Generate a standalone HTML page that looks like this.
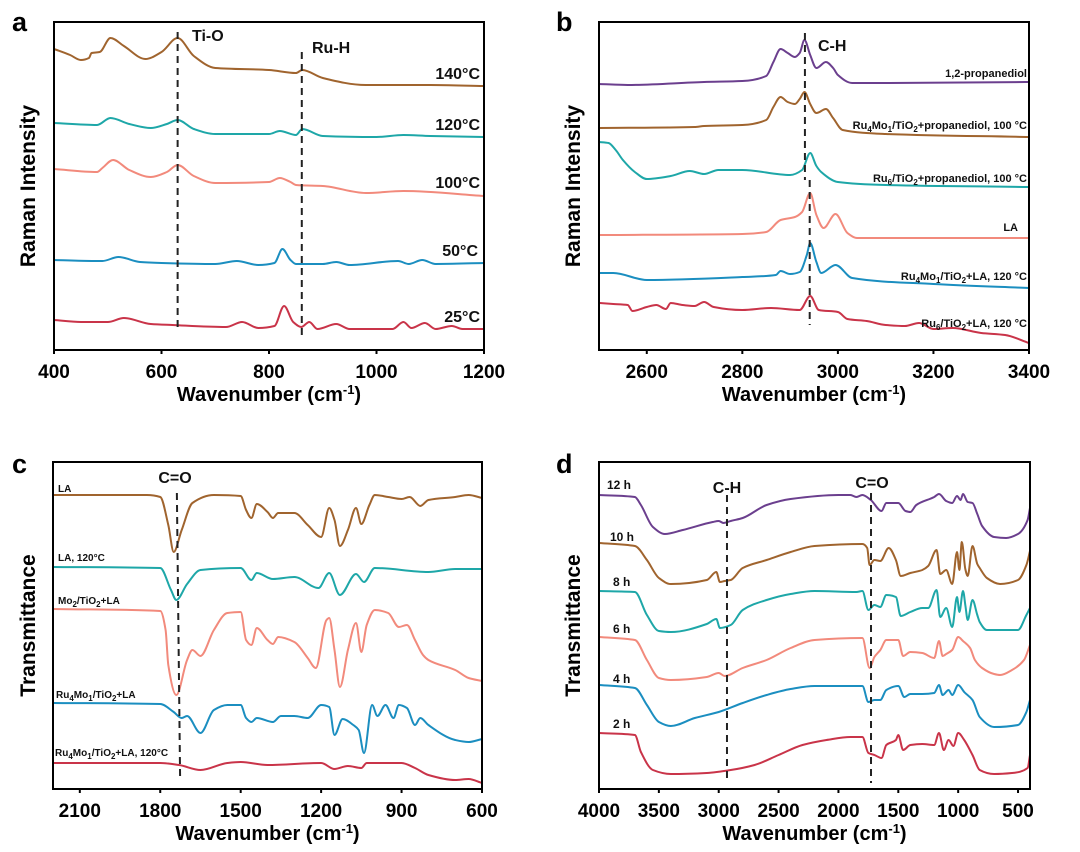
<!DOCTYPE html>
<html><head><meta charset="utf-8"><style>
body{margin:0;background:#fff}
svg{display:block;font-family:"Liberation Sans",Arial,sans-serif}
</style></head><body>
<svg id="fig" width="1080" height="852" viewBox="0 0 1080 852"></svg>
<script>
// ---- Panel a (Raman, x: wavenumber, values: offset intensity a.u.) ----
const aTicks=[400,600,800,1000,1200];
const a140=[400,49,430,55,450,60,465,58,470,53,485,52,505,38,530,46,570,59,600,52,630,38,660,56,700,68,800,70,850,73,862,70,900,78,980,85,1100,85,1200,86];
const a120=[400,123,480,125,505,118,540,124,580,128,610,124,630,120,660,129,700,134,800,134,820,131,850,135,862,129,900,136,1000,137,1050,135,1100,136,1200,137];
const a100=[400,169,480,172,490,168,510,160,540,170,580,177,610,172,630,165,660,176,700,183,800,182,820,178,840,182,850,185,900,186,980,193,1050,191,1200,196];
const a50=[400,260,470,261,490,261,520,257,560,262,600,263,700,264,740,261,780,265,810,263,825,249,840,260,850,264,900,264,925,262,950,265,1040,261,1060,264,1085,260,1110,264,1200,263];
const a25=[400,320,450,322,500,322,530,318,580,324,620,325,720,327,750,322,780,328,810,326,828,306,845,322,860,327,875,322,890,329,925,324,950,329,1030,329,1050,322,1065,328,1090,323,1110,329,1140,326,1160,329,1200,329];
// ---- Panel b ----
const bTicks=[2600,2800,3000,3200,3400];
const bProp=[2500,84,2560,85,2720,82,2800,81,2850,76,2865,62,2880,49,2895,53,2910,57,2920,53,2930,40,2942,55,2955,68,2975,62,2990,68,3000,75,3030,83,3100,83,3400,82];
const bRuMoProp=[2500,128,2700,127,2720,126,2800,125,2850,120,2865,107,2880,97,2895,102,2910,104,2920,99,2930,92,2942,104,2955,113,2975,109,2990,118,3010,130,3100,134,3400,137];
const bRuProp=[2500,142,2520,143,2535,150,2550,160,2575,172,2600,179,2650,176,2690,171,2720,174,2750,170,2800,170,2900,175,2925,170,2942,153,2955,166,2965,172,3000,182,3100,185,3400,187];
const bLA=[2500,235,2800,234,2850,232,2880,220,2910,217,2925,212,2942,193,2955,215,2970,228,2995,214,3020,233,3040,238,3400,238];
const bRuMoLA=[2500,273,2530,273,2600,280,2800,277,2870,275,2880,271,2900,274,2920,272,2935,255,2942,243,2955,262,2965,273,2995,265,3030,278,3200,284,3400,288];
const bRuLA=[2500,303,2530,304,2560,305,2570,311,2600,307,2620,305,2640,309,2650,303,2675,305,2700,306,2720,302,2740,307,2800,310,2860,308,2920,310,2942,296,2960,310,3000,312,3020,319,3060,321,3100,325,3140,326,3170,323,3200,329,3240,328,3300,333,3350,335,3400,343];
// ---- Panel c (IR transmittance) ----
const cTicks=[2100,1800,1500,1200,900,600];
const cLA=[2200,495,1850,495,1800,497,1770,525,1750,552,1720,530,1680,503,1600,495,1500,496,1480,510,1460,518,1440,504,1400,512,1380,518,1360,513,1300,513,1250,525,1200,537,1170,508,1150,520,1130,546,1100,530,1070,508,1050,524,1020,505,1000,495,950,497,900,499,870,497,830,506,800,500,700,497,650,495,600,498];
const cLA120=[2200,567,1800,568,1760,590,1740,600,1700,584,1650,570,1500,568,1460,580,1440,573,1380,579,1300,577,1210,588,1170,573,1130,595,1070,574,1040,582,1000,568,800,572,700,569,600,569];
const cMo=[2200,609,1800,611,1780,630,1770,665,1740,695,1700,660,1680,650,1650,656,1600,630,1550,613,1500,612,1480,640,1460,645,1440,628,1400,640,1380,644,1360,637,1300,642,1250,658,1220,668,1180,620,1170,618,1150,650,1130,687,1100,650,1070,623,1050,652,1030,625,1000,610,950,613,910,627,880,625,850,640,820,655,800,660,700,670,650,678,600,681];
const cRuMo=[2200,703,1800,704,1750,712,1720,718,1700,716,1650,733,1600,710,1550,705,1500,705,1480,718,1460,722,1440,718,1380,722,1350,716,1300,716,1250,718,1200,705,1170,707,1150,735,1120,719,1080,725,1060,730,1040,753,1010,705,990,716,960,705,930,718,910,705,880,708,850,725,830,718,800,725,700,740,650,742,600,739];
const cRuMo120=[2200,763,1800,763,1730,765,1650,770,1550,763,1500,762,1400,765,1200,763,1150,769,1100,766,1050,768,1030,763,900,763,850,768,800,775,700,780,650,779,600,783];
// ---- Panel d (IR time series) ----
const dTicks=[4000,3500,3000,2500,2000,1500,1000,500];
const d12=[4000,495,3700,497,3650,505,3550,527,3450,534,3300,530,3050,522,3000,521,2960,523,2900,521,2800,518,2600,505,2400,499,2000,495,1900,495,1850,497,1800,495,1730,500,1640,511,1600,503,1500,503,1440,511,1400,512,1350,505,1200,497,1160,494,1100,501,1050,503,1010,496,980,500,960,494,920,502,880,503,840,514,800,526,700,537,600,538,500,534,420,520,400,508];
const d10=[4000,543,3700,546,3600,560,3500,578,3400,584,3100,580,3020,572,2990,582,2950,581,2900,580,2800,568,2600,560,2400,552,2200,546,1800,544,1760,548,1740,565,1700,560,1650,561,1580,548,1520,560,1480,576,1400,573,1300,570,1250,566,1180,550,1150,574,1100,570,1050,584,1010,552,990,570,970,542,940,569,920,576,880,546,840,564,820,568,760,578,650,584,500,580,430,565,400,551];
const d8=[4000,591,3700,592,3600,615,3500,631,3400,632,3100,624,3020,619,2990,628,2900,625,2800,610,2600,600,2400,594,2200,591,1850,592,1800,591,1750,610,1700,605,1650,607,1600,595,1520,597,1480,616,1400,612,1300,608,1250,608,1180,590,1150,617,1100,608,1050,627,1010,597,990,612,960,591,940,605,920,620,880,600,840,615,820,622,760,630,650,630,500,630,430,615,400,608];
const d6=[4000,637,3700,640,3600,660,3500,678,3400,680,3100,677,3000,673,2950,676,2800,668,2600,660,2400,648,2200,640,1800,638,1740,668,1700,657,1650,650,1600,640,1500,640,1460,656,1400,652,1300,653,1200,658,1160,641,1130,656,1100,654,1050,650,1000,637,960,641,900,648,860,660,800,668,700,674,650,675,550,670,450,660,400,645];
const d4=[4000,685,3700,688,3600,705,3500,722,3400,726,3200,718,3000,712,2800,703,2600,695,2400,689,2200,686,1800,686,1750,702,1700,700,1650,700,1600,690,1500,686,1450,697,1400,694,1300,694,1200,693,1160,685,1130,695,1080,690,1050,695,1000,685,950,692,880,700,820,717,700,727,500,725,430,712,400,700];
const d2=[4000,733,3700,735,3650,752,3550,770,3400,774,3100,773,2900,770,2700,765,2500,755,2300,745,2100,740,1900,737,1800,737,1750,753,1700,755,1640,758,1600,745,1520,740,1500,735,1460,750,1400,745,1300,744,1200,745,1160,733,1120,750,1080,740,1040,746,1000,733,950,740,880,755,820,770,700,774,550,773,420,768,400,755];

const NS="http://www.w3.org/2000/svg";
const svg=document.getElementById('fig');
function el(tag,attrs,parent){const e=document.createElementNS(NS,tag);for(const k in attrs)e.setAttribute(k,attrs[k]);(parent||svg).appendChild(e);return e;}
function txt(s,attrs,parent){const t=el('text',attrs,parent);t.textContent=s;return t;}

const C={brown:'#a0642e',teal:'#1ea7a8',salmon:'#f28a7c',blue:'#1b8ec0',red:'#c93449',purple:'#6b3f8e'};

// monotone cubic path (no overshoot)
function monoPath(pts){
  const n=pts.length;const dx=[],s=[];
  for(let i=0;i<n-1;i++){dx[i]=pts[i+1][0]-pts[i][0];s[i]=(pts[i+1][1]-pts[i][1])/dx[i];}
  const m=new Array(n);m[0]=s[0];m[n-1]=s[n-2];
  for(let i=1;i<n-1;i++){m[i]=(s[i-1]*s[i]<=0)?0:(3*(dx[i-1]+dx[i]))/((2*dx[i]+dx[i-1])/s[i-1]+(dx[i]+2*dx[i-1])/s[i]);}
  let d='M'+pts[0][0].toFixed(1)+','+pts[0][1].toFixed(1);
  for(let i=0;i<n-1;i++){
    const h=dx[i]/3;
    d+='C'+(pts[i][0]+h).toFixed(1)+','+(pts[i][1]+m[i]*h).toFixed(1)+' '+(pts[i+1][0]-h).toFixed(1)+','+(pts[i+1][1]-m[i+1]*h).toFixed(1)+' '+pts[i+1][0].toFixed(1)+','+pts[i+1][1].toFixed(1);
  }
  return d;
}

function makePanel(p){
  const g=el('g',{});
  
  
  const X=v=>p.l+(v-p.x0)/(p.x1-p.x0)*(p.r-p.l);
  const Y=v=>p.t+(v-p.y0)/(p.y1-p.y0)*(p.b-p.t);
  p.series.forEach(s=>{
    const pts=[];for(let i=0;i<s.d.length;i+=2)pts.push([X(s.d[i]),Y(s.d[i+1])]);
    const path=el('path',{d:monoPath(pts),fill:'none',stroke:s.c,'stroke-width':2,'stroke-linejoin':'round'},g);
    
    
  });
  p.dash.forEach(m=>{
    const ln=el('line',{x1:X(m.x),y1:m.y1,x2:X(m.x2||m.x),y2:m.y2,stroke:'#222','stroke-width':2,'stroke-dasharray':'7,5'},g);
    
    
  });
  const fr=el('rect',{x:p.l,y:p.t,width:p.r-p.l,height:p.b-p.t,fill:'none',stroke:'#000','stroke-width':2},g);
  
  
  p.ticks.forEach(v=>{
    el('line',{x1:X(v),x2:X(v),y1:p.b,y2:p.b+4,stroke:'#000','stroke-width':2},g);
    const t=txt(String(v),{x:X(v),y:p.b+28,'text-anchor':'middle','font-size':19,'font-weight':'bold'},g);
    
    
  });
  const xt=txt('',{x:(p.l+p.r)/2,y:p.b+51,'text-anchor':'middle','font-size':20,'font-weight':'bold'},g);
  xt.innerHTML='Wavenumber (cm<tspan baseline-shift="7" font-size="13">-1</tspan>)';
  
  
  const yt=txt(p.ytitle,{x:0,y:0,transform:'translate('+p.ytx+','+((p.t+p.b)/2)+') rotate(-90)','text-anchor':'middle','font-size':21,'font-weight':'bold'},g);
  
  
  const lt=txt(p.letter,{x:p.lx,y:p.ly,'font-size':27,'font-weight':'bold'},g);
  
  
  p.labels.forEach(L=>{
    const t=txt('',{x:L.x,y:L.y,'text-anchor':L.a||'start','font-size':L.fs||11,'font-weight':'bold',fill:'#111'},g);
    t.innerHTML=L.h;
    
    
  });
}
const sub=s=>'<tspan font-size="8" baseline-shift="-3">'+s+'</tspan>';

makePanel({name:'panel-a',l:54,r:484,t:22,b:350,x0:400,x1:1200,y0:22,y1:350,ticks:aTicks,ytitle:'Raman Intensity',ytx:35,letter:'a',lx:12,ly:31,
 series:[{id:'140c',d:a140,c:C.brown},{id:'120c',d:a120,c:C.teal},{id:'100c',d:a100,c:C.salmon},{id:'50c',d:a50,c:C.blue},{id:'25c',d:a25,c:C.red}],
 dash:[{id:'ti-o-marker',x:630,y1:32,y2:332},{id:'ru-h-marker',x:861,y1:52,y2:338}],
 labels:[{id:'ti-o-label',x:192,y:41,h:'Ti-O',fs:16},{id:'ru-h-label',x:312,y:53,h:'Ru-H',fs:16},
  {id:'label-140c',x:480,y:79,a:'end',h:'140°C',fs:16},{id:'label-120c',x:480,y:130,a:'end',h:'120°C',fs:16},{id:'label-100c',x:480,y:188,a:'end',h:'100°C',fs:16},{id:'label-50c',x:478,y:256,a:'end',h:'50°C',fs:16},{id:'label-25c',x:480,y:322,a:'end',h:'25°C',fs:16}]});

makePanel({name:'panel-b',l:599,r:1029,t:22,b:350,x0:2500,x1:3400,y0:22,y1:350,ticks:bTicks,ytitle:'Raman Intensity',ytx:580,letter:'b',lx:556,ly:31,
 series:[{id:'propanediol',d:bProp,c:C.purple},{id:'ru4mo1-propanediol',d:bRuMoProp,c:C.brown},{id:'ru6-propanediol',d:bRuProp,c:C.teal},{id:'la',d:bLA,c:C.salmon},{id:'ru4mo1-la',d:bRuMoLA,c:C.blue},{id:'ru6-la',d:bRuLA,c:C.red}],
 dash:[{id:'c-h-marker-upper',x:2931,y1:33,y2:180},{id:'c-h-marker-lower',x:2941,y1:180,y2:325}],
 labels:[{id:'c-h-label',x:818,y:51,h:'C-H',fs:16},
  {id:'label-propanediol',x:1027,y:77,a:'end',h:'1,2-propanediol'},
  {id:'label-ru4mo1-propanediol',x:1027,y:129,a:'end',h:'Ru'+sub('4')+'Mo'+sub('1')+'/TiO'+sub('2')+'+propanediol, 100 °C'},
  {id:'label-ru6-propanediol',x:1027,y:182,a:'end',h:'Ru'+sub('6')+'/TiO'+sub('2')+'+propanediol, 100 °C'},
  {id:'label-la',x:1018,y:231,a:'end',h:'LA'},
  {id:'label-ru4mo1-la',x:1027,y:280,a:'end',h:'Ru'+sub('4')+'Mo'+sub('1')+'/TiO'+sub('2')+'+LA, 120 °C'},
  {id:'label-ru6-la',x:1027,y:327,a:'end',h:'Ru'+sub('6')+'/TiO'+sub('2')+'+LA, 120 °C'}]});

makePanel({name:'panel-c',l:53,r:482,t:462,b:789,x0:2200,x1:600,y0:462,y1:789,ticks:cTicks,ytitle:'Transmittance',ytx:35,letter:'c',lx:12,ly:473,
 series:[{id:'la',d:cLA,c:C.brown},{id:'la-120c',d:cLA120,c:C.teal},{id:'mo2-la',d:cMo,c:C.salmon},{id:'ru4mo1-la',d:cRuMo,c:C.blue},{id:'ru4mo1-la-120c',d:cRuMo120,c:C.red}],
 dash:[{id:'c-o-marker',x:1738,x2:1726,y1:493,y2:777}],
 labels:[{id:'c-o-label',x:175,y:483,a:'middle',h:'C=O',fs:16},
  {id:'label-la',x:58,y:492,h:'LA',fs:10},{id:'label-la-120c',x:58,y:561,h:'LA, 120°C',fs:10},
  {id:'label-mo2-la',x:58,y:604,h:'Mo'+sub('2')+'/TiO'+sub('2')+'+LA',fs:10},
  {id:'label-ru4mo1-la',x:56,y:698,h:'Ru'+sub('4')+'Mo'+sub('1')+'/TiO'+sub('2')+'+LA',fs:10},
  {id:'label-ru4mo1-la-120c',x:55,y:756,h:'Ru'+sub('4')+'Mo'+sub('1')+'/TiO'+sub('2')+'+LA, 120°C',fs:10}]});

makePanel({name:'panel-d',l:599,r:1030,t:462,b:789,x0:4000,x1:400,y0:462,y1:789,ticks:dTicks,ytitle:'Transmittance',ytx:580,letter:'d',lx:556,ly:473,
 series:[{id:'12h',d:d12,c:C.purple},{id:'10h',d:d10,c:C.brown},{id:'8h',d:d8,c:C.teal},{id:'6h',d:d6,c:C.salmon},{id:'4h',d:d4,c:C.blue},{id:'2h',d:d2,c:C.red}],
 dash:[{id:'c-h-marker',x:2931,y1:495,y2:783},{id:'c-o-marker',x:1728,y1:493,y2:783}],
 labels:[{id:'c-h-label',x:727,y:493,a:'middle',h:'C-H',fs:16},{id:'c-o-label',x:872,y:488,a:'middle',h:'C=O',fs:16},
  {id:'label-12h',x:607,y:489,h:'12 h',fs:12},{id:'label-10h',x:610,y:541,h:'10 h',fs:12},{id:'label-8h',x:613,y:586,h:'8 h',fs:12},
  {id:'label-6h',x:613,y:633,h:'6 h',fs:12},{id:'label-4h',x:613,y:683,h:'4 h',fs:12},{id:'label-2h',x:613,y:728,h:'2 h',fs:12}]});
</script>
</body></html>
